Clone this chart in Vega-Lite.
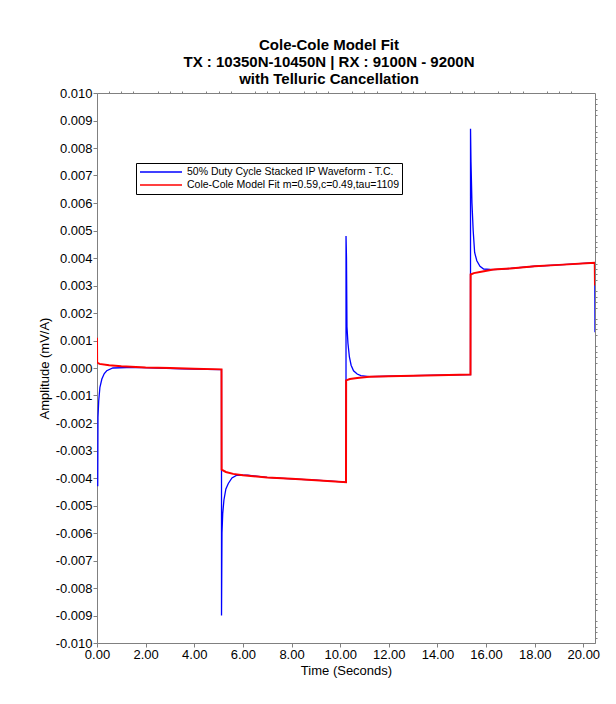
{
  "$schema": "https://vega.github.io/schema/vega-lite/v6.json",
  "width": 498,
  "height": 550,
  "autosize": {"type": "none"},
  "padding": {"left": 97, "top": 93, "right": 21, "bottom": 61},
  "background": "white",
  "config": {
    "font": "Liberation Sans",
    "view": {"stroke": "#808080", "strokeWidth": 1},
    "locale": {"number": {"decimal": ".", "thousands": ",", "grouping": [3], "currency": ["$", ""], "minus": "-"}},
    "axis": {"grid": false, "domainColor": "#808080", "tickColor": "#808080", "labelColor": "black", "labelFont": "Liberation Sans", "labelFontSize": 13, "titleFont": "Liberation Sans", "titleFontSize": 13, "titleFontWeight": "normal", "titleColor": "black"}
  },
  "title": {
    "text": ["Cole-Cole Model Fit", "TX : 10350N-10450N | RX : 9100N - 9200N", "with Telluric Cancellation"],
    "font": "Liberation Sans",
    "fontSize": 15,
    "fontWeight": "bold",
    "lineHeight": 17,
    "anchor": "middle",
    "dx": -17,
    "offset": 0,
    "color": "black"
  },
  "datasets": {
    "curves": [
      {"t": 0.03, "v": -0.0043, "s": "50% Duty Cycle Stacked IP Waveform - T.C."},
      {"t": 0.04, "v": -0.0018, "s": "50% Duty Cycle Stacked IP Waveform - T.C."},
      {"t": 0.07, "v": -0.0012, "s": "50% Duty Cycle Stacked IP Waveform - T.C."},
      {"t": 0.12, "v": -0.0007, "s": "50% Duty Cycle Stacked IP Waveform - T.C."},
      {"t": 0.2, "v": -0.0004, "s": "50% Duty Cycle Stacked IP Waveform - T.C."},
      {"t": 0.3, "v": -0.0002, "s": "50% Duty Cycle Stacked IP Waveform - T.C."},
      {"t": 0.4, "v": -0.0001, "s": "50% Duty Cycle Stacked IP Waveform - T.C."},
      {"t": 0.65, "v": 0.0, "s": "50% Duty Cycle Stacked IP Waveform - T.C."},
      {"t": 1.5, "v": 0.00002, "s": "50% Duty Cycle Stacked IP Waveform - T.C."},
      {"t": 2.5, "v": 0.0, "s": "50% Duty Cycle Stacked IP Waveform - T.C."},
      {"t": 3.5, "v": -0.00003, "s": "50% Duty Cycle Stacked IP Waveform - T.C."},
      {"t": 4.5, "v": -0.00005, "s": "50% Duty Cycle Stacked IP Waveform - T.C."},
      {"t": 5.12, "v": -0.00006, "s": "50% Duty Cycle Stacked IP Waveform - T.C."},
      {"t": 5.121, "v": -0.009, "s": "50% Duty Cycle Stacked IP Waveform - T.C."},
      {"t": 5.14, "v": -0.006, "s": "50% Duty Cycle Stacked IP Waveform - T.C."},
      {"t": 5.17, "v": -0.0053, "s": "50% Duty Cycle Stacked IP Waveform - T.C."},
      {"t": 5.22, "v": -0.0048, "s": "50% Duty Cycle Stacked IP Waveform - T.C."},
      {"t": 5.3, "v": -0.0044, "s": "50% Duty Cycle Stacked IP Waveform - T.C."},
      {"t": 5.4, "v": -0.0042, "s": "50% Duty Cycle Stacked IP Waveform - T.C."},
      {"t": 5.55, "v": -0.004, "s": "50% Duty Cycle Stacked IP Waveform - T.C."},
      {"t": 5.75, "v": -0.0039, "s": "50% Duty Cycle Stacked IP Waveform - T.C."},
      {"t": 6.2, "v": -0.0039, "s": "50% Duty Cycle Stacked IP Waveform - T.C."},
      {"t": 7.0, "v": -0.00398, "s": "50% Duty Cycle Stacked IP Waveform - T.C."},
      {"t": 8.0, "v": -0.00403, "s": "50% Duty Cycle Stacked IP Waveform - T.C."},
      {"t": 9.0, "v": -0.00408, "s": "50% Duty Cycle Stacked IP Waveform - T.C."},
      {"t": 10.24, "v": -0.00415, "s": "50% Duty Cycle Stacked IP Waveform - T.C."},
      {"t": 10.241, "v": 0.0048, "s": "50% Duty Cycle Stacked IP Waveform - T.C."},
      {"t": 10.26, "v": 0.004, "s": "50% Duty Cycle Stacked IP Waveform - T.C."},
      {"t": 10.28, "v": 0.0015, "s": "50% Duty Cycle Stacked IP Waveform - T.C."},
      {"t": 10.32, "v": 0.0009, "s": "50% Duty Cycle Stacked IP Waveform - T.C."},
      {"t": 10.38, "v": 0.0004, "s": "50% Duty Cycle Stacked IP Waveform - T.C."},
      {"t": 10.45, "v": 0.0001, "s": "50% Duty Cycle Stacked IP Waveform - T.C."},
      {"t": 10.55, "v": -0.0001, "s": "50% Duty Cycle Stacked IP Waveform - T.C."},
      {"t": 10.7, "v": -0.00022, "s": "50% Duty Cycle Stacked IP Waveform - T.C."},
      {"t": 10.85, "v": -0.00028, "s": "50% Duty Cycle Stacked IP Waveform - T.C."},
      {"t": 11.2, "v": -0.00031, "s": "50% Duty Cycle Stacked IP Waveform - T.C."},
      {"t": 12.0, "v": -0.0003, "s": "50% Duty Cycle Stacked IP Waveform - T.C."},
      {"t": 13.0, "v": -0.00028, "s": "50% Duty Cycle Stacked IP Waveform - T.C."},
      {"t": 14.0, "v": -0.00026, "s": "50% Duty Cycle Stacked IP Waveform - T.C."},
      {"t": 15.36, "v": -0.00024, "s": "50% Duty Cycle Stacked IP Waveform - T.C."},
      {"t": 15.361, "v": 0.0087, "s": "50% Duty Cycle Stacked IP Waveform - T.C."},
      {"t": 15.38, "v": 0.0075, "s": "50% Duty Cycle Stacked IP Waveform - T.C."},
      {"t": 15.42, "v": 0.006, "s": "50% Duty Cycle Stacked IP Waveform - T.C."},
      {"t": 15.47, "v": 0.005, "s": "50% Duty Cycle Stacked IP Waveform - T.C."},
      {"t": 15.53, "v": 0.0042, "s": "50% Duty Cycle Stacked IP Waveform - T.C."},
      {"t": 15.62, "v": 0.0039, "s": "50% Duty Cycle Stacked IP Waveform - T.C."},
      {"t": 15.75, "v": 0.0037, "s": "50% Duty Cycle Stacked IP Waveform - T.C."},
      {"t": 15.9, "v": 0.0036, "s": "50% Duty Cycle Stacked IP Waveform - T.C."},
      {"t": 16.3, "v": 0.00358, "s": "50% Duty Cycle Stacked IP Waveform - T.C."},
      {"t": 17.0, "v": 0.00362, "s": "50% Duty Cycle Stacked IP Waveform - T.C."},
      {"t": 18.0, "v": 0.0037, "s": "50% Duty Cycle Stacked IP Waveform - T.C."},
      {"t": 19.0, "v": 0.00375, "s": "50% Duty Cycle Stacked IP Waveform - T.C."},
      {"t": 20.47, "v": 0.00383, "s": "50% Duty Cycle Stacked IP Waveform - T.C."},
      {"t": 20.48, "v": 0.0013, "s": "50% Duty Cycle Stacked IP Waveform - T.C."},
      {"t": 0.0, "v": 0.0011, "s": "Cole-Cole Model Fit m=0.59,c=0.49,tau=1109"},
      {"t": 0.005, "v": 0.0002, "s": "Cole-Cole Model Fit m=0.59,c=0.49,tau=1109"},
      {"t": 0.1, "v": 0.00015, "s": "Cole-Cole Model Fit m=0.59,c=0.49,tau=1109"},
      {"t": 0.5, "v": 0.0001, "s": "Cole-Cole Model Fit m=0.59,c=0.49,tau=1109"},
      {"t": 1.0, "v": 0.00006, "s": "Cole-Cole Model Fit m=0.59,c=0.49,tau=1109"},
      {"t": 2.0, "v": 0.00002, "s": "Cole-Cole Model Fit m=0.59,c=0.49,tau=1109"},
      {"t": 3.0, "v": 0.0, "s": "Cole-Cole Model Fit m=0.59,c=0.49,tau=1109"},
      {"t": 4.0, "v": -0.00003, "s": "Cole-Cole Model Fit m=0.59,c=0.49,tau=1109"},
      {"t": 5.12, "v": -0.00005, "s": "Cole-Cole Model Fit m=0.59,c=0.49,tau=1109"},
      {"t": 5.125, "v": -0.0037, "s": "Cole-Cole Model Fit m=0.59,c=0.49,tau=1109"},
      {"t": 5.3, "v": -0.00378, "s": "Cole-Cole Model Fit m=0.59,c=0.49,tau=1109"},
      {"t": 5.6, "v": -0.00385, "s": "Cole-Cole Model Fit m=0.59,c=0.49,tau=1109"},
      {"t": 6.0, "v": -0.0039, "s": "Cole-Cole Model Fit m=0.59,c=0.49,tau=1109"},
      {"t": 7.0, "v": -0.00398, "s": "Cole-Cole Model Fit m=0.59,c=0.49,tau=1109"},
      {"t": 8.0, "v": -0.00403, "s": "Cole-Cole Model Fit m=0.59,c=0.49,tau=1109"},
      {"t": 9.0, "v": -0.00408, "s": "Cole-Cole Model Fit m=0.59,c=0.49,tau=1109"},
      {"t": 10.24, "v": -0.00415, "s": "Cole-Cole Model Fit m=0.59,c=0.49,tau=1109"},
      {"t": 10.245, "v": -0.00045, "s": "Cole-Cole Model Fit m=0.59,c=0.49,tau=1109"},
      {"t": 10.4, "v": -0.0004, "s": "Cole-Cole Model Fit m=0.59,c=0.49,tau=1109"},
      {"t": 10.7, "v": -0.00036, "s": "Cole-Cole Model Fit m=0.59,c=0.49,tau=1109"},
      {"t": 11.2, "v": -0.00032, "s": "Cole-Cole Model Fit m=0.59,c=0.49,tau=1109"},
      {"t": 12.0, "v": -0.0003, "s": "Cole-Cole Model Fit m=0.59,c=0.49,tau=1109"},
      {"t": 13.0, "v": -0.00028, "s": "Cole-Cole Model Fit m=0.59,c=0.49,tau=1109"},
      {"t": 14.0, "v": -0.00026, "s": "Cole-Cole Model Fit m=0.59,c=0.49,tau=1109"},
      {"t": 15.36, "v": -0.00024, "s": "Cole-Cole Model Fit m=0.59,c=0.49,tau=1109"},
      {"t": 15.365, "v": 0.0034, "s": "Cole-Cole Model Fit m=0.59,c=0.49,tau=1109"},
      {"t": 15.5, "v": 0.00345, "s": "Cole-Cole Model Fit m=0.59,c=0.49,tau=1109"},
      {"t": 15.8, "v": 0.0035, "s": "Cole-Cole Model Fit m=0.59,c=0.49,tau=1109"},
      {"t": 16.3, "v": 0.00358, "s": "Cole-Cole Model Fit m=0.59,c=0.49,tau=1109"},
      {"t": 17.0, "v": 0.00362, "s": "Cole-Cole Model Fit m=0.59,c=0.49,tau=1109"},
      {"t": 18.0, "v": 0.0037, "s": "Cole-Cole Model Fit m=0.59,c=0.49,tau=1109"},
      {"t": 19.0, "v": 0.00375, "s": "Cole-Cole Model Fit m=0.59,c=0.49,tau=1109"},
      {"t": 20.47, "v": 0.00383, "s": "Cole-Cole Model Fit m=0.59,c=0.49,tau=1109"},
      {"t": 20.48, "v": 0.003, "s": "Cole-Cole Model Fit m=0.59,c=0.49,tau=1109"}
    ]
  },
  "data": {"name": "curves"},
  "encoding": {
    "x": {"field": "t", "type": "quantitative", "scale": {"domain": [0, 20.48], "nice": false, "zero": false}},
    "y": {"field": "v", "type": "quantitative", "scale": {"domain": [-0.01, 0.01], "nice": false}},
    "color": {
      "field": "s", "type": "nominal",
      "scale": {"domain": ["50% Duty Cycle Stacked IP Waveform - T.C.", "Cole-Cole Model Fit m=0.59,c=0.49,tau=1109"], "range": ["#0000ff", "#ff0000"]},
      "legend": {
        "title": null, "orient": "none", "legendX": 39, "legendY": 70,
        "direction": "vertical",
        "strokeColor": "black", "fillColor": "white", "padding": 3,
        "symbolType": "stroke", "symbolSize": 1764, "symbolStrokeWidth": 1.5,
        "labelFont": "Liberation Sans", "labelFontSize": 10.5, "labelColor": "black", "labelLimit": 400,
        "rowPadding": 1, "labelOffset": 4, "clipHeight": 12
      }
    }
  },
  "resolve": {"axis": {"x": "independent", "y": "independent"}},
  "layer": [
    {
      "transform": [{"filter": "datum.s === '50% Duty Cycle Stacked IP Waveform - T.C.'"}],
      "mark": {"type": "line", "strokeWidth": 1.3, "clip": true},
      "encoding": {
        "x": {"field": "t", "type": "quantitative", "axis": {"values": [0, 2, 4, 6, 8, 10, 12, 14, 16, 18, 20], "format": ".2f", "title": "Time (Seconds)", "tickSize": 4, "labelPadding": 1, "titlePadding": 3, "labelFlush": false}},
        "y": {"field": "v", "type": "quantitative", "axis": {"values": [-0.01, -0.009, -0.008, -0.007, -0.006, -0.005, -0.004, -0.003, -0.002, -0.001, 0, 0.001, 0.002, 0.003, 0.004, 0.005, 0.006, 0.007, 0.008, 0.009, 0.01], "format": ".3f", "title": "Amplitude (mV/A)", "tickSize": 4, "labelPadding": 1, "titlePadding": 4}}
      }
    },
    {
      "transform": [{"filter": "datum.s === 'Cole-Cole Model Fit m=0.59,c=0.49,tau=1109'"}],
      "mark": {"type": "line", "strokeWidth": 2, "clip": true},
      "encoding": {
        "x": {"field": "t", "type": "quantitative", "axis": {"values": [0.5, 1, 1.5, 2.5, 3, 3.5, 4.5, 5, 5.5, 6.5, 7, 7.5, 8.5, 9, 9.5, 10.5, 11, 11.5, 12.5, 13, 13.5, 14.5, 15, 15.5, 16.5, 17, 17.5, 18.5, 19, 19.5], "labels": false, "domain": false, "tickSize": 2, "title": null}},
        "y": {"field": "v", "type": "quantitative", "axis": {"values": [-0.0098, -0.0096, -0.0094, -0.0092, -0.0088, -0.0086, -0.0084, -0.0082, -0.0078, -0.0076, -0.0074, -0.0072, -0.0068, -0.0066, -0.0064, -0.0062, -0.0058, -0.0056, -0.0054, -0.0052, -0.0048, -0.0046, -0.0044, -0.0042, -0.0038, -0.0036, -0.0034, -0.0032, -0.0028, -0.0026, -0.0024, -0.0022, -0.0018, -0.0016, -0.0014, -0.0012, -0.0008, -0.0006, -0.0004, -0.0002, 0.0002, 0.0004, 0.0006, 0.0008, 0.0012, 0.0014, 0.0016, 0.0018, 0.0022, 0.0024, 0.0026, 0.0028, 0.0032, 0.0034, 0.0036, 0.0038, 0.0042, 0.0044, 0.0046, 0.0048, 0.0052, 0.0054, 0.0056, 0.0058, 0.0062, 0.0064, 0.0066, 0.0068, 0.0072, 0.0074, 0.0076, 0.0078, 0.0082, 0.0084, 0.0086, 0.0088, 0.0092, 0.0094, 0.0096, 0.0098], "labels": false, "domain": false, "tickSize": 2, "title": null}}
      }
    }
  ]
}
